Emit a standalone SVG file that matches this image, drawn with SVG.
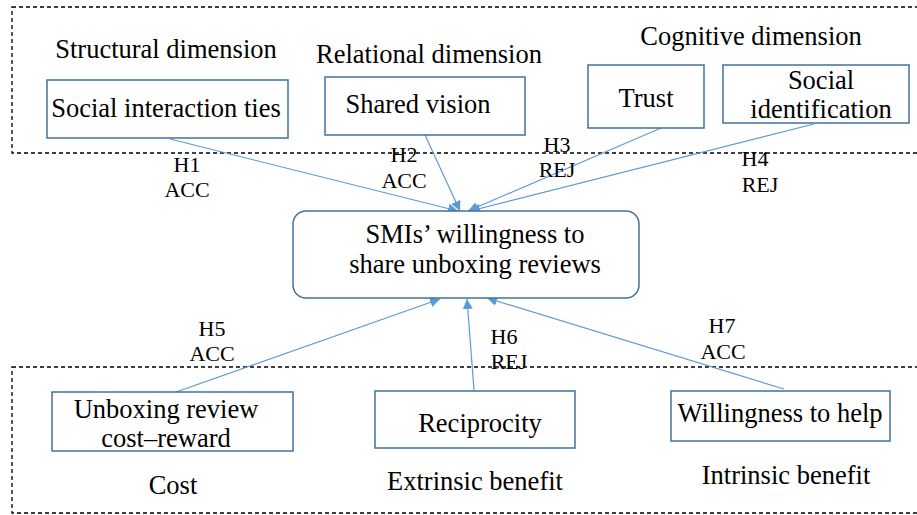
<svg xmlns="http://www.w3.org/2000/svg" width="917" height="515" viewBox="0 0 917 515" font-family="'Liberation Serif', 'Times New Roman', 'DejaVu Serif', serif">
<defs>
<style>
text{fill:#000;text-anchor:middle}
.t{font-size:26.5px}
.g{font-size:26.5px}
.l{font-size:22px}
.box{fill:#fff;stroke:#41719C;stroke-width:1.5}
.dash{fill:none;stroke:#000;stroke-width:1.3;stroke-dasharray:4 3}
.c{stroke:#5B9BD5;stroke-width:1.2;fill:none;marker-end:url(#ah)}
</style>
<marker id="ah" viewBox="0 0 10 10" refX="10" refY="5" markerWidth="10" markerHeight="10" markerUnits="userSpaceOnUse" orient="auto">
<path d="M0,0 L10,5 L0,10 z" fill="#5B9BD5"/>
</marker>
</defs>
<rect width="917" height="515" fill="#fff"/>
<g id="groups">
<rect class="dash" x="12" y="7" width="915" height="146"/>
<rect class="dash" x="12" y="367" width="915" height="146"/>
<text class="g" x="166" y="58">Structural dimension</text>
<text class="g" x="429" y="63">Relational dimension</text>
<text class="g" x="751" y="45">Cognitive dimension</text>
<text class="g" x="173" y="494">Cost</text>
<text class="g" x="475" y="490">Extrinsic benefit</text>
<text class="g" x="786" y="484">Intrinsic benefit</text>
</g>
<g id="connectors">
<line class="c" x1="170" y1="139" x2="458" y2="211"/>
<line class="c" x1="425" y1="135" x2="460" y2="211"/>
<line class="c" x1="661" y1="128" x2="468" y2="211"/>
<line class="c" x1="814" y1="124" x2="470" y2="211"/>
<line class="c" x1="176" y1="392" x2="440" y2="299"/>
<line class="c" x1="474" y1="390" x2="467" y2="299"/>
<line class="c" x1="784" y1="389" x2="487" y2="298"/>
<text class="l" x="187" y="172">H1</text>
<text class="l" x="187" y="197">ACC</text>
<text class="l" x="404" y="162">H2</text>
<text class="l" x="404" y="188">ACC</text>
<text class="l" x="557" y="152">H3</text>
<text class="l" x="557" y="177">REJ</text>
<text class="l" x="755" y="166">H4</text>
<text class="l" x="760" y="192">REJ</text>
<text class="l" x="212" y="336">H5</text>
<text class="l" x="212" y="361">ACC</text>
<text class="l" x="504" y="344">H6</text>
<text class="l" x="509" y="369">REJ</text>
<text class="l" x="722" y="333">H7</text>
<text class="l" x="723" y="359">ACC</text>
</g>
<g id="n-social-interaction">
<rect class="box" x="47" y="80" width="241" height="58"/>
<text class="t" x="166" y="117">Social interaction ties</text>
</g>
<g id="n-shared-vision">
<rect class="box" x="325" y="77" width="200" height="58"/>
<text class="t" x="418" y="113">Shared vision</text>
</g>
<g id="n-trust">
<rect class="box" x="588" y="65" width="116" height="63"/>
<text class="t" x="646" y="107">Trust</text>
</g>
<g id="n-social-identification">
<rect class="box" x="723" y="65" width="186" height="58"/>
<text class="t" x="821" y="89">Social</text>
<text class="t" x="821" y="118">identification</text>
</g>
<g id="n-smi">
<rect class="box" x="293" y="211" width="346" height="87" rx="13"/>
<text class="t" x="475" y="243">SMIs’ willingness to</text>
<text class="t" x="475" y="273">share unboxing reviews</text>
</g>
<g id="n-cost-reward">
<rect class="box" x="52" y="392" width="241" height="59"/>
<text class="t" x="166" y="418">Unboxing review</text>
<text class="t" x="166" y="447">cost–reward</text>
</g>
<g id="n-reciprocity">
<rect class="box" x="375" y="391" width="200" height="57"/>
<text class="t" x="480" y="432">Reciprocity</text>
</g>
<g id="n-willingness-help">
<rect class="box" x="671" y="391" width="219" height="50"/>
<text class="t" x="780" y="422">Willingness to help</text>
</g>
</svg>
